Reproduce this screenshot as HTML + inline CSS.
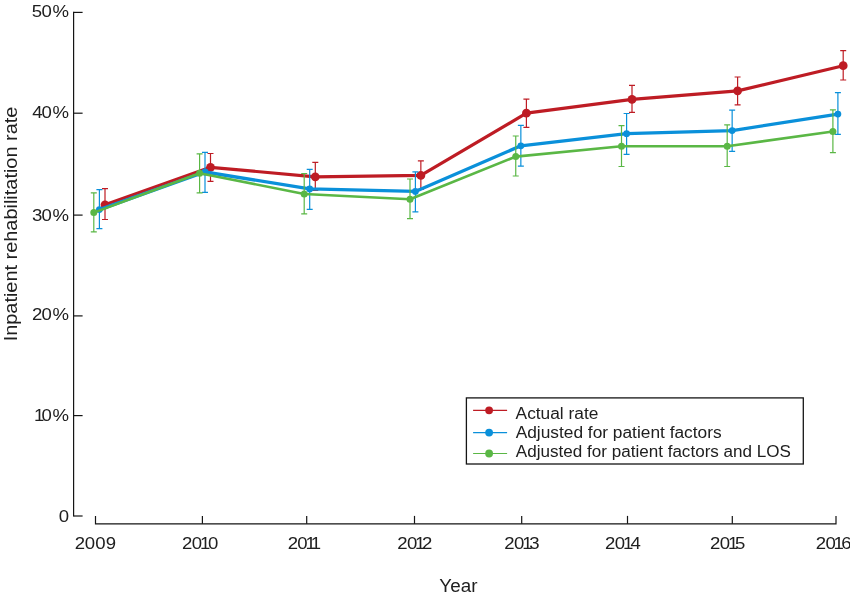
<!DOCTYPE html>
<html lang="en">
<head>
<meta charset="utf-8">
<title>Inpatient rehabilitation rate by year</title>
<style>
html,body{margin:0;padding:0;background:#fff;}
body{width:850px;height:596px;overflow:hidden;}
svg{display:block;}
text{font-family:"Liberation Sans",sans-serif;fill:#202020;}
.tick{font-size:16.3px;}
.title{font-size:18.3px;}
.leg{font-size:16px;}
.ax{stroke:#151515;stroke-width:1.2;fill:none;}
</style>
</head>
<body>
<svg width="850" height="596" viewBox="0 0 850 596">
<rect x="0" y="0" width="850" height="596" fill="#ffffff"/>
<g class="ax">
<path d="M73.6 11.8V516.6"/>
<path d="M73.6 516.0H82.6"/>
<path d="M73.6 415.6H82.6"/>
<path d="M73.6 315.9H82.6"/>
<path d="M73.6 215.1H82.6"/>
<path d="M73.6 113.2H82.6"/>
<path d="M73.6 12.4H82.6"/>
<path d="M95.5 515.9V523.8H836V515.9"/>
<path d="M202.4 515.9V523.8"/>
<path d="M306.7 515.9V523.8"/>
<path d="M414.5 515.9V523.8"/>
<path d="M521.7 515.9V523.8"/>
<path d="M627.5 515.9V523.8"/>
<path d="M732.3 515.9V523.8"/>
</g>
<g stroke="#BE1C24" fill="none">
<path d="M105.00 188.6V219.5M102.00 188.6H108.00M102.00 219.5H108.00M210.50 153.5V181.3M207.50 153.5H213.50M207.50 181.3H213.50M315.30 162.3V190.5M312.30 162.3H318.30M312.30 190.5H318.30M420.85 160.9V189.3M417.85 160.9H423.85M417.85 189.3H423.85M526.40 99.1V127.3M523.40 99.1H529.40M523.40 127.3H529.40M632.00 85.4V112.4M629.00 85.4H635.00M629.00 112.4H635.00M737.60 77.0V104.8M734.60 77.0H740.60M734.60 104.8H740.60M843.20 50.6V80.0M840.20 50.6H846.20M840.20 80.0H846.20" stroke-width="1.20" stroke-opacity="1"/>
<polyline points="105.00,204.80 210.50,167.30 315.30,176.80 420.85,175.40 526.40,113.20 632.00,99.40 737.60,90.85 843.20,65.70" stroke-width="3.20" stroke-linejoin="round"/>
</g>
<g fill="#BE1C24">
<circle cx="105.00" cy="204.80" r="4.40"/>
<circle cx="210.50" cy="167.30" r="4.40"/>
<circle cx="315.30" cy="176.80" r="4.40"/>
<circle cx="420.85" cy="175.40" r="4.40"/>
<circle cx="526.40" cy="113.20" r="4.40"/>
<circle cx="632.00" cy="99.40" r="4.40"/>
<circle cx="737.60" cy="90.85" r="4.40"/>
<circle cx="843.20" cy="65.70" r="4.40"/>
</g>
<g stroke="#0A90DA" fill="none">
<path d="M99.40 189.6V228.7M96.40 189.6H102.40M96.40 228.7H102.40M205.00 152.3V192.4M202.00 152.3H208.00M202.00 192.4H208.00M309.70 169.4V209.3M306.70 169.4H312.70M306.70 209.3H312.70M415.40 171.9V211.9M412.40 171.9H418.40M412.40 211.9H418.40M520.85 125.3V166.2M517.85 125.3H523.85M517.85 166.2H523.85M626.60 113.5V154.3M623.60 113.5H629.60M623.60 154.3H629.60M732.15 110.2V151.4M729.15 110.2H735.15M729.15 151.4H735.15M837.90 92.7V134.3M834.90 92.7H840.90M834.90 134.3H840.90" stroke-width="1.20" stroke-opacity="1"/>
<polyline points="99.40,209.60 205.00,172.00 309.70,188.90 415.40,191.40 520.85,145.80 626.60,133.70 732.15,130.60 837.90,114.10" stroke-width="3.30" stroke-linejoin="round"/>
</g>
<g fill="#0A90DA">
<circle cx="99.40" cy="209.60" r="3.40"/>
<circle cx="205.00" cy="172.00" r="3.40"/>
<circle cx="309.70" cy="188.90" r="3.40"/>
<circle cx="415.40" cy="191.40" r="3.40"/>
<circle cx="520.85" cy="145.80" r="3.40"/>
<circle cx="626.60" cy="133.70" r="3.40"/>
<circle cx="732.15" cy="130.60" r="3.40"/>
<circle cx="837.90" cy="114.10" r="3.40"/>
</g>
<g stroke="#5AB745" fill="none">
<path d="M93.80 192.9V231.9M90.80 192.9H96.80M90.80 231.9H96.80M199.60 153.9V192.8M196.60 153.9H202.60M196.60 192.8H202.60M304.20 173.5V213.8M301.20 173.5H307.20M301.20 213.8H307.20M410.00 179.0V218.7M407.00 179.0H413.00M407.00 218.7H413.00M515.75 136.0V176.0M512.75 136.0H518.75M512.75 176.0H518.75M621.50 125.6V166.5M618.50 125.6H624.50M618.50 166.5H624.50M727.20 124.8V166.5M724.20 124.8H730.20M724.20 166.5H730.20M832.90 109.8V152.7M829.90 109.8H835.90M829.90 152.7H835.90" stroke-width="1.20" stroke-opacity="1"/>
<polyline points="93.80,212.60 199.60,173.20 304.20,194.00 410.00,199.30 515.75,156.60 621.50,146.20 727.20,146.20 832.90,131.50" stroke-width="2.60" stroke-linejoin="round"/>
</g>
<g fill="#5AB745">
<circle cx="93.80" cy="212.60" r="3.50"/>
<circle cx="199.60" cy="173.20" r="3.50"/>
<circle cx="304.20" cy="194.00" r="3.50"/>
<circle cx="410.00" cy="199.30" r="3.50"/>
<circle cx="515.75" cy="156.60" r="3.50"/>
<circle cx="621.50" cy="146.20" r="3.50"/>
<circle cx="727.20" cy="146.20" r="3.50"/>
<circle cx="832.90" cy="131.50" r="3.50"/>
</g>
<rect x="466.4" y="397.9" width="336.9" height="66.1" fill="#fff" stroke="#151515" stroke-width="1.3"/>
<path d="M473.1 410.3H507.1" stroke="#BE1C24" stroke-width="1.2"/>
<circle cx="489.1" cy="410.3" r="3.9" fill="#BE1C24"/>
<path d="M473.1 432.6H507.1" stroke="#0A90DA" stroke-width="1.2"/>
<circle cx="489.1" cy="432.6" r="3.9" fill="#0A90DA"/>
<path d="M473.1 453.5H507.1" stroke="#5AB745" stroke-width="1.2"/>
<circle cx="489.1" cy="453.5" r="3.9" fill="#5AB745"/>
<text class="title" x="439.37" y="592.20" textLength="38.06" lengthAdjust="spacingAndGlyphs">Year</text>
<text class="leg" x="515.60" y="418.80" textLength="82.77" lengthAdjust="spacingAndGlyphs">Actual rate</text>
<text class="leg" x="515.69" y="438.10" textLength="205.88" lengthAdjust="spacingAndGlyphs">Adjusted for patient factors</text>
<text class="leg" x="515.88" y="456.80" textLength="275.07" lengthAdjust="spacingAndGlyphs">Adjusted for patient factors and LOS</text>
<text class="tick" transform="translate(0 548.9) scale(1.14 1)" x="65.67 74.28 83.63 92.80" y="0">2009</text>
<text class="tick" transform="translate(0 548.9) scale(1.14 1)" x="159.70 168.23 175.36 182.48" y="0">2010</text>
<text class="tick" transform="translate(0 548.9) scale(1.14 1)" x="252.40 260.82 268.03 272.68" y="0">2011</text>
<text class="tick" transform="translate(0 548.9) scale(1.14 1)" x="348.48 357.00 364.13 370.18" y="0">2012</text>
<text class="tick" transform="translate(0 548.9) scale(1.14 1)" x="442.42 450.95 458.08 464.33" y="0">2013</text>
<text class="tick" transform="translate(0 548.9) scale(1.14 1)" x="530.76 539.28 546.41 553.02" y="0">2014</text>
<text class="tick" transform="translate(0 548.9) scale(1.14 1)" x="622.86 631.39 638.51 644.65" y="0">2015</text>
<text class="tick" transform="translate(0 548.9) scale(1.14 1)" x="715.58 724.11 731.23 737.96" y="0">2016</text>
<text class="tick" transform="translate(0 522.4) scale(1.14 1)" x="51.48" y="0">0</text>
<text class="tick" transform="translate(0 420.9) scale(1.14 1)" x="29.92 36.48 46.09" y="0">10%</text>
<text class="tick" transform="translate(0 319.6) scale(1.14 1)" x="28.01 36.48 46.09" y="0">20%</text>
<text class="tick" transform="translate(0 220.7) scale(1.14 1)" x="28.10 36.48 46.09" y="0">30%</text>
<text class="tick" transform="translate(0 117.7) scale(1.14 1)" x="28.28 36.48 46.09" y="0">40%</text>
<text class="tick" transform="translate(0 17.2) scale(1.14 1)" x="27.90 36.48 46.09" y="0">50%</text>
<text class="title" transform="translate(16.70 341.33) rotate(-90)" textLength="234.66" lengthAdjust="spacingAndGlyphs">Inpatient rehabilitation rate</text>
</svg>
</body>
</html>
